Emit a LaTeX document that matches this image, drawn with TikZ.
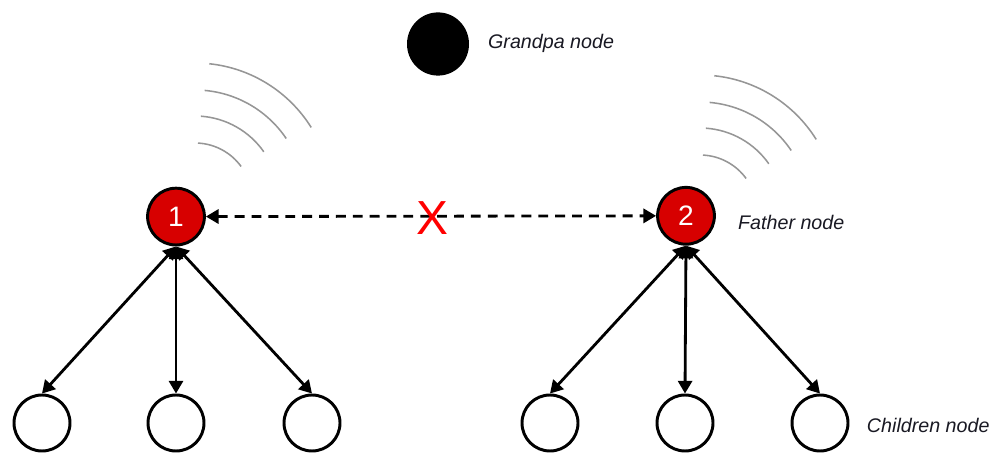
\documentclass[tikz,border=0pt]{standalone}
\usepackage{fontspec}
\setmainfont{Liberation Sans}
\usetikzlibrary{arrows.meta, shapes.geometric}
\definecolor{nodered}{RGB}{215,0,0}
\definecolor{wavegray}{RGB}{150,150,150}
\definecolor{labelgray}{RGB}{25,25,35}

\begin{document}
\begin{tikzpicture}[
    father/.style={circle, draw, line width=2.1pt, fill=nodered, minimum size=1.42cm,
        inner sep=0pt, text=white, font=\fontsize{20}{20}\selectfont},
    child/.style={circle, draw, line width=2.1pt, minimum size=1.4cm, inner sep=0pt},
    link/.style={{Triangle[length=9pt,width=10pt]}-{Triangle[length=9pt,width=10pt]}, line width=2pt},
    wave/.style={wavegray, line width=1.1pt},
    caption/.style={anchor=west, text=labelgray, font=\fontsize{14}{14}\selectfont\itshape}
]
    \useasboundingbox (0,0) rectangle (24.825,11.375);

    \node[ellipse, fill=black, minimum width=1.55cm, minimum height=1.58cm, inner sep=0pt] (grandpa) at (10.95,10.275) {};
    \node[caption] (grandpatext) at (12.08,10.3) {Grandpa node};

    \node[father] (f1) at (4.4,5.96) {1};
    \node[father] (f2) at (17.15,5.98) {2};
    \node[caption] (fathertext) at (18.33,5.825) {Father node};

    \coordinate (W1) at (4.875,6.375);
    \coordinate (W2) at (17.5,6.075);

    \draw[wave] (W1) ++(87:1.425) arc[start angle=87, end angle=36, radius=1.425];
    \draw[wave] (W1) ++(86:2.1) arc[start angle=86, end angle=35, radius=2.1];
    \draw[wave] (W1) ++(85:2.75) arc[start angle=85, end angle=34, radius=2.75];
    \draw[wave] (W1) ++(84:3.425) arc[start angle=84, end angle=32, radius=3.425];

    \draw[wave] (W2) ++(87:1.425) arc[start angle=87, end angle=36, radius=1.425];
    \draw[wave] (W2) ++(86:2.1) arc[start angle=86, end angle=35, radius=2.1];
    \draw[wave] (W2) ++(85:2.75) arc[start angle=85, end angle=34, radius=2.75];
    \draw[wave] (W2) ++(84:3.425) arc[start angle=84, end angle=32, radius=3.425];

    \draw[link, dash pattern=on 7pt off 5pt] (f1) -- (f2);
    \node[text=red, font=\fontsize{34}{34}\selectfont] (cut) at (10.8,5.925) {X};

    \node[child] (c11) at (1.05,0.8) {};
    \node[child] (c12) at (4.4,0.8) {};
    \node[child] (c13) at (7.8,0.8) {};

    \node[child] (c21) at (13.75,0.8) {};
    \node[child] (c22) at (17.125,0.8) {};
    \node[child] (c23) at (20.5,0.8) {};
    \node[caption] (childtext) at (21.55,0.75) {Children node};

    \draw[link] (f1.south) -- (c11.north);
    \draw[link] (f1.south) -- (c12.north);
    \draw[link] (f1.south) -- (c13.north);

    \draw[link] (f2.south) -- (c21.north);
    \draw[link] (f2.south) -- (c22.north);
    \draw[link] (f2.south) -- (c23.north);
\end{tikzpicture}
\end{document}
